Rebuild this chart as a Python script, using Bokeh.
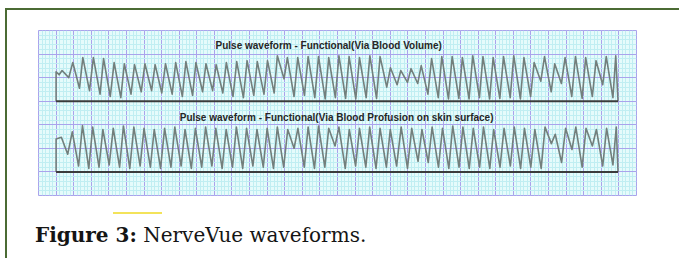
from bokeh.plotting import figure
from bokeh.models import FixedTicker, Div
from bokeh.layouts import column
from bokeh.embed import file_html
from bokeh.resources import INLINE
from bokeh.core.properties import value

# ---------------- data (grid divisions) ----------------
title_top = "Pulse waveform - Functional(Via Blood Volume)"
title_bottom = "Pulse waveform - Functional(Via Blood Profusion on skin surface)"
caption_bold = "Figure 3:"
caption_rest = "NerveVue waveforms."

trace_start = 1.0
trace_end = 32.95
w1_base = 4.0
w2_base = 1.0

# waveform 1 (via blood volume)
w1_peak_t = [1.34, 1.95, 2.52, 3.12, 3.70, 4.30, 4.88, 5.46, 6.05, 6.63,
             7.22, 7.80, 8.38, 8.95, 9.52, 10.10, 10.68, 11.27, 11.86, 12.44,
             13.02, 13.58, 14.15, 14.74, 15.33, 15.92, 16.50, 17.08, 17.66, 18.25,
             18.84, 19.42, 20.01, 20.60, 21.18, 21.76, 22.35, 22.93, 23.52, 24.10,
             24.69, 25.27, 25.85, 26.44, 27.02, 27.60, 28.18, 28.77, 29.35, 29.94,
             30.53, 31.11, 31.70, 32.28, 32.82]
w1_peak_v = [5.30, 5.64, 5.85, 5.85, 5.81, 5.64, 5.59, 5.55, 5.59, 5.55,
             5.59, 5.64, 5.68, 5.64, 5.59, 5.55, 5.64, 5.68, 5.72, 5.68,
             5.72, 5.93, 5.85, 5.85, 5.89, 5.89, 5.85, 5.93, 5.89, 5.85,
             5.93, 5.89, 5.42, 5.30, 5.38, 5.51, 5.81, 5.89, 5.89, 5.85,
             5.93, 5.89, 5.85, 5.89, 5.93, 5.85, 5.64, 5.89, 5.59, 5.85,
             5.89, 5.85, 5.72, 5.89, 5.93]
w1_trough_t = [1.72, 2.33, 2.90, 3.50, 4.08, 4.68, 5.26, 5.84, 6.43, 7.01,
               7.60, 8.18, 8.76, 9.33, 9.90, 10.48, 11.06, 11.65, 12.24, 12.82,
               13.40, 13.96, 14.53, 15.12, 15.71, 16.30, 16.88, 17.46, 18.04, 18.63,
               19.22, 19.80, 20.39, 20.98, 21.56, 22.14, 22.73, 23.31, 23.90, 24.48,
               25.07, 25.65, 26.23, 26.82, 27.40, 27.98, 28.56, 29.15, 29.73, 30.32,
               30.91, 31.49, 32.08, 32.66]
w1_trough_v = [5.00, 4.55, 4.45, 4.30, 4.20, 4.15, 4.30, 4.40, 4.45, 4.35,
               4.30, 4.20, 4.25, 4.40, 4.45, 4.35, 4.20, 4.15, 4.25, 4.30,
               4.35, 4.95, 4.20, 4.25, 4.15, 4.10, 4.15, 4.12, 4.10, 4.15,
               4.12, 4.60, 4.70, 4.80, 4.75, 4.30, 4.15, 4.10, 4.12, 4.10,
               4.15, 4.10, 4.12, 4.15, 4.10, 4.20, 4.85, 4.40, 4.75, 4.20,
               4.12, 4.20, 4.70, 4.15]
w1_extra_t = [1.0, 1.17]
w1_extra_v = [5.25, 5.12]

# waveform 2 (via blood profusion on skin surface)
w2_peak_t = [1.30, 1.92, 2.50, 3.08, 3.66, 4.25, 4.83, 5.42, 6.00, 6.58,
             7.17, 7.75, 8.33, 8.92, 9.50, 10.08, 10.67, 11.25, 11.83, 12.42,
             13.00, 13.58, 14.17, 14.75, 15.33, 15.92, 16.50, 17.08, 17.67, 18.25,
             18.83, 19.42, 20.00, 20.62, 21.22, 21.80, 22.38, 22.97, 23.55, 24.13,
             24.72, 25.30, 25.88, 26.47, 27.05, 27.63, 28.22, 28.80, 29.38, 29.97,
             30.55, 31.13, 31.72, 32.30, 32.85]
w2_peak_v = [2.47, 2.70, 2.97, 2.90, 2.80, 2.85, 2.95, 2.90, 2.85, 2.80,
             2.85, 2.90, 2.80, 2.85, 2.90, 2.85, 2.80, 2.90, 2.85, 2.80,
             2.85, 2.90, 2.80, 2.85, 2.90, 2.95, 2.85, 2.90, 2.80, 2.85,
             2.90, 2.85, 2.80, 2.90, 2.85, 2.80, 2.90, 2.85, 2.95, 2.90,
             2.85, 2.90, 2.80, 2.85, 2.90, 2.85, 2.80, 2.90, 2.60, 2.85,
             2.90, 2.85, 2.80, 2.85, 2.90]
w2_trough_t = [1.66, 2.28, 2.86, 3.44, 4.02, 4.61, 5.19, 5.78, 6.36, 6.94,
               7.53, 8.11, 8.69, 9.28, 9.86, 10.44, 11.03, 11.61, 12.19, 12.78,
               13.36, 13.94, 14.53, 15.11, 15.69, 16.28, 16.86, 17.44, 18.03, 18.61,
               19.19, 19.78, 20.36, 20.98, 21.58, 22.16, 22.74, 23.33, 23.91, 24.49,
               25.08, 25.66, 26.24, 26.83, 27.41, 27.99, 28.58, 29.16, 29.74, 30.33,
               30.91, 31.49, 32.08, 32.66]
w2_trough_v = [1.75, 1.25, 1.15, 1.20, 1.30, 1.20, 1.15, 1.25, 1.20, 1.15,
               1.20, 1.25, 1.15, 1.20, 1.25, 1.15, 1.20, 1.15, 1.25, 1.20,
               1.15, 1.20, 2.00, 1.20, 1.15, 1.20, 2.10, 1.15, 1.25, 1.20,
               1.15, 1.20, 1.25, 1.15, 1.45, 1.40, 1.20, 1.15, 1.20, 1.15,
               1.20, 1.15, 1.20, 1.25, 1.15, 1.20, 1.15, 2.20, 1.40, 1.95,
               1.20, 2.10, 1.25, 1.30]
w2_extra_t = [1.0]
w2_extra_v = [2.40]

# grid (paper) divisions
x_major = list(range(0, 35))
y_major = list(range(0, 8))
x_minor = [i / 5 for i in range(0, 34 * 5 + 1)]
y_minor = [i / 5 for i in range(0, 7 * 5 + 1)]


def trace(base, pk_t, pk_v, tr_t, tr_v, ex_t, ex_v):
    pts = [(trace_start, base), (trace_end, base)]
    pts += list(zip(pk_t, pk_v)) + list(zip(tr_t, tr_v)) + list(zip(ex_t, ex_v))
    pts.sort()
    return [q[0] for q in pts], [q[1] for q in pts]


MAJOR = "#aaa3ec"
MINOR = "#c0eef2"
PAPER = "#e5fbfb"
WAVE = "#737f7c"

p = figure(width=672, height=193, x_range=(0, 34), y_range=(0, 7),
           output_backend="svg", toolbar_location=None,
           x_axis_location=None, y_axis_location=None,
           min_border_left=31, min_border_right=43,
           min_border_top=20, min_border_bottom=8)
p.background_fill_color = PAPER
p.border_fill_color = "white"
p.outline_line_color = MAJOR
p.outline_line_width = 1

p.xgrid.ticker = FixedTicker(ticks=x_major, minor_ticks=x_minor)
p.ygrid.ticker = FixedTicker(ticks=y_major, minor_ticks=y_minor)
for g in (p.xgrid, p.ygrid):
    g.grid_line_color = MAJOR
    g.grid_line_width = 1
    g.minor_grid_line_color = MINOR
    g.minor_grid_line_width = 1

x1, y1 = trace(w1_base, w1_peak_t, w1_peak_v, w1_trough_t, w1_trough_v, w1_extra_t, w1_extra_v)
x2, y2 = trace(w2_base, w2_peak_t, w2_peak_v, w2_trough_t, w2_trough_v, w2_extra_t, w2_extra_v)

p.line(x1, y1, line_color=WAVE, line_width=1.6, line_join="round")
p.line(x2, y2, line_color=WAVE, line_width=1.6, line_join="round")
p.line([trace_start, trace_end], [w1_base, w1_base], line_color="#3b3b3b", line_width=2)
p.line([trace_start, trace_end], [w2_base, w2_base], line_color="#3b3b3b", line_width=2)

p.text(x=[16.5], y=[6.36], text=[title_top], text_font=value("Liberation Sans"),
       text_font_style="bold", text_font_size="10px", text_align="center",
       text_baseline="middle", text_color="#262626")
p.text(x=[16.95], y=[3.30], text=[title_bottom], text_font=value("Liberation Sans"),
       text_font_style="bold", text_font_size="10px", text_align="center",
       text_baseline="middle", text_color="#262626")

cap_html = (
    '<div style="position:relative;width:650px;height:45px;">'
    '<div style="position:absolute;left:101px;top:4px;width:49px;height:2px;background:#f3e35a;"></div>'
    '<div style="position:absolute;left:23px;top:17px;font-family:\'DejaVu Serif\',serif;'
    'font-size:20px;line-height:1;color:#151515;white-space:nowrap;">'
    f'<b>{caption_bold}</b> {caption_rest}</div>'
    '</div>'
)
cap = Div(text=cap_html, width=650, height=45)

layout = column(p, cap, styles={"border-top": "2px solid #4b6b34",
                                "border-left": "2px solid #4b6b34",
                                "margin-left": "5px",
                                "margin-top": "8px"})

open("out.html", "w").write(file_html(layout, INLINE))
